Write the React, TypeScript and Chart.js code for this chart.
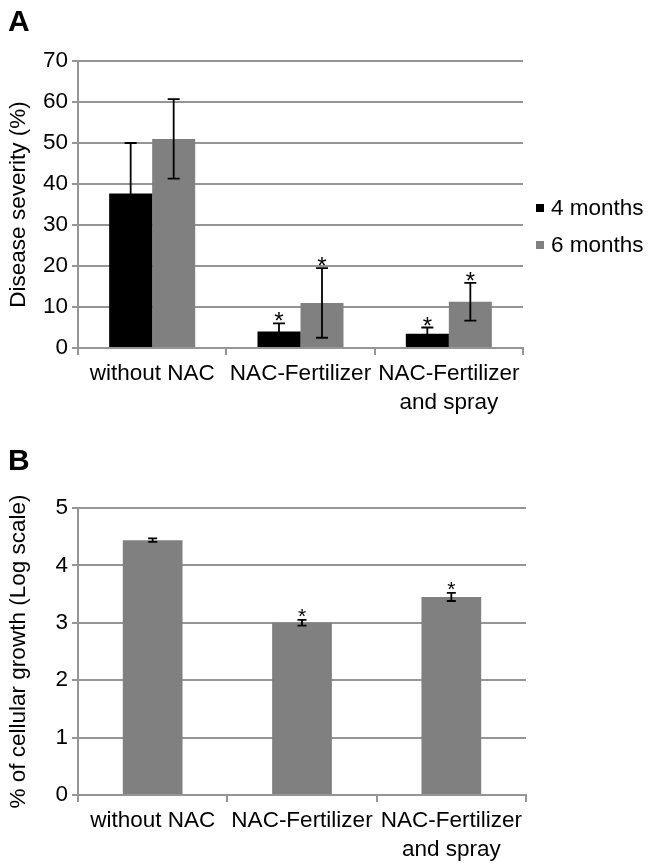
import React, { useEffect, useRef } from 'react';
import { Chart, registerables } from 'chart.js';
Chart.register(...registerables);

const FONT = "'Liberation Sans', Arial, sans-serif";

const categories = [['without NAC'], ['NAC-Fertilizer'], ['NAC-Fertilizer', 'and spray']];

const seriesLabels = ['4 months', '6 months'];
const severity4 = [37.7, 4.0, 3.5];
const severity4Err = [12.3, 2.0, 1.5];
const severity4Sig = [false, true, true];
const severity6 = [51.0, 11.0, 11.3];
const severity6Err = [9.7, 8.5, 4.6];
const severity6Sig = [false, true, true];

const growth = [4.44, 3.0, 3.45];
const growthErr = [0.03, 0.05, 0.07];
const growthSig = [false, true, true];

const GRID = '#959595';
const FS = 22.5;

const errorBarPlugin = {
  id: 'errorBars',
  afterDatasetsDraw(chart: any, _args: any, opts: any) {
    const ctx = chart.ctx;
    const y = chart.scales.y;
    const cap = opts.cap || 6;
    const starSize = opts.starSize || 22;
    chart.data.datasets.forEach((ds: any, di: number) => {
      const meta = chart.getDatasetMeta(di);
      meta.data.forEach((bar: any, i: number) => {
        const v = ds.data[i];
        const e = ds.errors[i];
        const x = bar.x;
        const yTop = y.getPixelForValue(v + e);
        const yBot = y.getPixelForValue(v - e);
        ctx.save();
        ctx.strokeStyle = '#000';
        ctx.lineWidth = 1.8;
        ctx.beginPath();
        ctx.moveTo(x, yTop);
        ctx.lineTo(x, yBot);
        ctx.moveTo(x - cap, yTop);
        ctx.lineTo(x + cap, yTop);
        ctx.moveTo(x - cap, yBot);
        ctx.lineTo(x + cap, yBot);
        ctx.stroke();
        if (ds.sig[i]) {
          ctx.fillStyle = '#000';
          ctx.font = `${starSize}px ${FONT}`;
          ctx.textAlign = 'center';
          ctx.textBaseline = 'alphabetic';
          const m = ctx.measureText('*');
          const desc = m.actualBoundingBoxDescent || -starSize * 0.43;
          ctx.fillText('*', x, yTop - opts.starGap - desc);
        }
        ctx.restore();
      });
    });
  },
};

const panelPlugin = {
  id: 'panelExtras',
  afterDraw(chart: any, _args: any, opts: any) {
    const ctx = chart.ctx;
    ctx.save();
    ctx.fillStyle = '#000';
    ctx.font = `bold 30px ${FONT}`;
    ctx.textAlign = 'left';
    ctx.textBaseline = 'alphabetic';
    ctx.fillText(opts.letter, opts.letterX, opts.letterY);
    if (opts.legend) {
      chart.data.datasets.forEach((ds: any, i: number) => {
        const cy = opts.legendY + i * opts.legendGap;
        ctx.fillStyle = ds.backgroundColor;
        ctx.fillRect(opts.legendX, cy - 4, 8, 8);
        ctx.fillStyle = '#000';
        ctx.font = `${FS}px ${FONT}`;
        ctx.textBaseline = 'middle';
        ctx.fillText(ds.label, opts.legendX + 15, cy + 1);
      });
    }
    ctx.restore();
  },
};

function axes(yMax: number, title: string, xHeight: number) {
  const font = { family: FONT, size: FS };
  return {
    x: {
      grid: { offset: true, drawOnChartArea: false, drawTicks: true, tickLength: 7, color: GRID, lineWidth: 2 },
      border: { color: GRID, width: 2 },
      ticks: { color: '#000', font: { family: FONT, size: FS, lineHeight: 1.3 }, padding: 4, maxRotation: 0, autoSkip: false },
      afterFit: (s: any) => { s.height = xHeight; },
    },
    y: {
      min: 0,
      max: yMax,
      ticks: { stepSize: yMax > 10 ? 10 : 1, color: '#000', font, padding: 4 },
      grid: { color: GRID, lineWidth: 2, tickLength: 6 },
      border: { color: GRID, width: 2 },
      title: { display: true, text: title, color: '#000', font, padding: 0 },
      afterFit: (s: any) => { s.width = 73; },
    },
  };
}

function PanelA() {
  const ref = useRef<HTMLCanvasElement>(null);
  useEffect(() => {
    const chart = new Chart(ref.current!, {
      type: 'bar',
      data: {
        labels: categories as any,
        datasets: [
          { label: seriesLabels[0], data: severity4, backgroundColor: '#000000', errors: severity4Err, sig: severity4Sig, categoryPercentage: 0.58, barPercentage: 1 } as any,
          { label: seriesLabels[1], data: severity6, backgroundColor: '#808080', errors: severity6Err, sig: severity6Sig, categoryPercentage: 0.58, barPercentage: 1 } as any,
        ],
      },
      options: {
        animation: false,
        responsive: false,
        layout: { padding: { left: 5, right: 130, top: 61, bottom: 0 } },
        plugins: {
          legend: { display: false },
          tooltip: { enabled: false },
          errorBars: { cap: 6, starSize: 24, starGap: 2 },
          panelExtras: { letter: 'A', letterX: 8, letterY: 31, legend: true, legendX: 536, legendY: 208, legendGap: 37 },
        } as any,
        scales: axes(70, 'Disease severity (%)', 72) as any,
      },
      plugins: [errorBarPlugin, panelPlugin],
    });
    return () => chart.destroy();
  }, []);
  return <canvas ref={ref} width={653} height={420} style={{ position: 'absolute', left: 0, top: 0 }} />;
}

function PanelB() {
  const ref = useRef<HTMLCanvasElement>(null);
  useEffect(() => {
    const chart = new Chart(ref.current!, {
      type: 'bar',
      data: {
        labels: categories as any,
        datasets: [
          { label: 'growth', data: growth, backgroundColor: '#808080', errors: growthErr, sig: growthSig, categoryPercentage: 0.4, barPercentage: 1 } as any,
        ],
      },
      options: {
        animation: false,
        responsive: false,
        layout: { padding: { left: 5, right: 127, top: 88, bottom: 0 } },
        plugins: {
          legend: { display: false },
          tooltip: { enabled: false },
          errorBars: { cap: 4.5, starSize: 21, starGap: 3 },
          panelExtras: { letter: 'B', letterX: 8, letterY: 50, legend: false },
        } as any,
        scales: axes(5, '% of cellular growth (Log scale)', 68) as any,
      },
      plugins: [errorBarPlugin, panelPlugin],
    });
    return () => chart.destroy();
  }, []);
  return <canvas ref={ref} width={653} height={443} style={{ position: 'absolute', left: 0, top: 420 }} />;
}

export default function App() {
  return (
    <div style={{ position: 'absolute', left: 0, top: 0, width: 653, height: 863, background: '#fff' }}>
      <PanelA />
      <PanelB />
    </div>
  );
}
